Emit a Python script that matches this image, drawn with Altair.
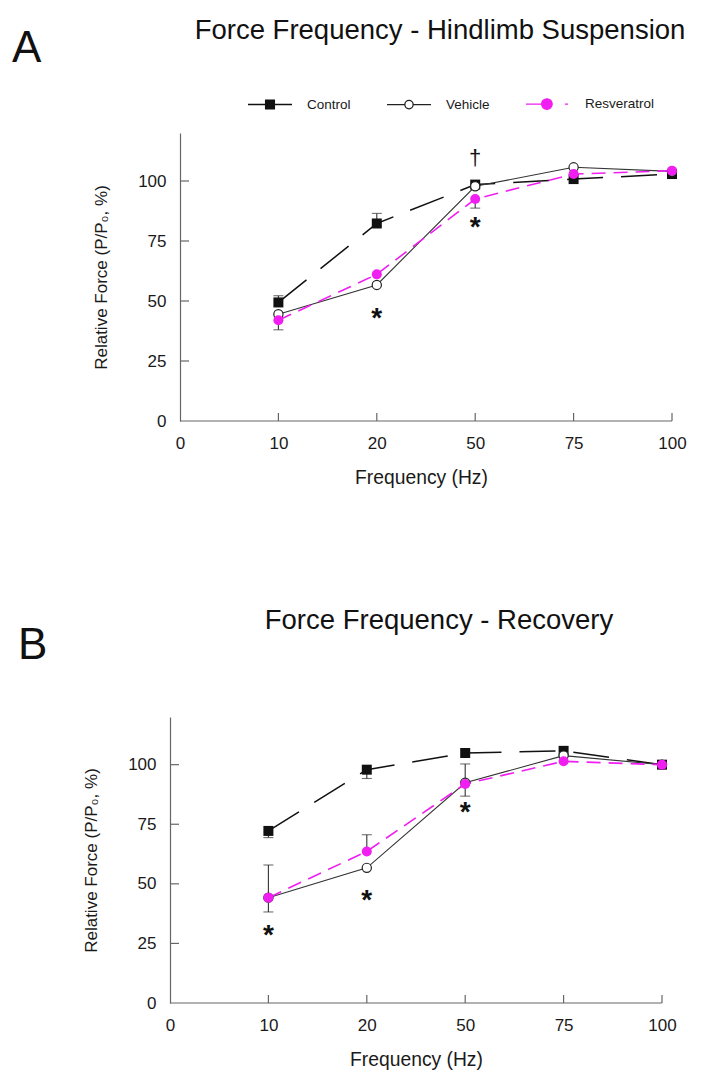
import altair as alt
import pandas as pd

# ---------------- data ----------------
freq_labels = ["0", "10", "20", "50", "75", "100"]
freq_index = [1, 2, 3, 4, 5]
y_tick_values = [0, 25, 50, 75, 100]
series_names = ["Control", "Vehicle", "Resveratrol"]

# Panel A - Hindlimb Suspension
a_control = [49.4, 82.3, 98.5, 100.8, 102.9]
a_vehicle = [44.5, 56.7, 97.8, 105.7, 104.0]
a_resveratrol = [42.0, 61.1, 92.5, 102.9, 104.3]
a_err_series = ["Control", "Control", "Resveratrol", "Resveratrol"]
a_err_index = [1, 2, 1, 3]
a_err_end = [52.2, 86.5, 38.0, 88.7]
a_sig_text = ["*", "*", "†"]
a_sig_index = [2, 3, 3]
a_sig_value = [45.6, 83.4, 109.5]

# Panel B - Recovery
b_control = [72.2, 97.9, 104.9, 105.8, 100.0]
b_vehicle = [44.2, 56.7, 92.4, 103.8, 100.0]
b_resveratrol = [44.2, 63.6, 91.9, 101.4, 100.0]
b_err_series = ["Control", "Control", "Resveratrol", "Vehicle", "Resveratrol", "Vehicle", "Resveratrol"]
b_err_index = [1, 2, 1, 1, 2, 3, 3]
b_err_end = [69.4, 94.2, 57.9, 38.2, 70.6, 100.3, 86.8]
b_sig_text = ["*", "*", "*"]
b_sig_index = [1, 2, 3]
b_sig_value = [31.3, 46.1, 83.0]

# ---------------- style ----------------
FONT = "Liberation Sans"
MAG = "#f01ef0"
AXC = "#666666"
TXT = "#1a1a1a"
STEP = 98.4  # px per category step

label_expr = "[" + ",".join("'%s'" % l for l in freq_labels) + "][datum.value]"

leg_shapes = [
    "M-1,0H1M-0.2,-0.2H0.2V0.2H-0.2Z",
    "M-1,0H-0.19M0.19,0H1M0.19,0A0.19,0.19 0 1,1 -0.19,0A0.19,0.19 0 1,1 0.19,0Z",
    "M-1,0H-0.2M0.77,0H0.91M0.19,0A0.24,0.24 0 1,1 -0.29,0A0.24,0.24 0 1,1 0.19,0Z",
]


def series_frame(vals_list):
    rows = []
    for name, vals in zip(series_names, vals_list):
        for i, v in zip(freq_index, vals):
            rows.append({"series": name, "idx": i, "value": v})
    return pd.DataFrame(rows)


def err_frame(df, s, ix, e):
    rows = []
    for ss, ii, ee in zip(s, ix, e):
        c = df[(df.series == ss) & (df.idx == ii)].value.iloc[0]
        rows.append({"series": ss, "idx": ii, "value": c, "end": ee})
    return pd.DataFrame(rows)


def panel(vals, err, sig, title, letter, H, shift, title_x, title_y,
          letter_x, letter_y, leg_x, leg_y):
    W = 492 + shift
    x0 = -shift / STEP
    df = series_frame(vals)
    ef = err_frame(df, *err)
    sf = pd.DataFrame({"t": sig[0], "idx": sig[1], "value": sig[2]})

    xs = alt.Scale(domain=[x0, 5], nice=False, zero=False)
    ys = alt.Scale(domain=[0, 120], nice=False, zero=False)
    x_axis = alt.Axis(
        values=list(range(6)), labelExpr=label_expr, domain=False, ticks=False,
        grid=False, labelFlush=False, labelFont=FONT, labelFontSize=17,
        labelColor=TXT, labelPadding=14, title="Frequency (Hz)", titleFont=FONT,
        titleFontSize=19.3, titleFontWeight="normal", titleColor=TXT,
        titlePadding=17)
    y_axis = alt.Axis(
        values=y_tick_values, offset=-shift, domainColor=AXC, domainWidth=1.2,
        ticks=False, grid=False, labelFlush=False, labelFont=FONT, labelFontSize=17,
        labelColor=TXT, labelPadding=14, title="Relative Force (P/P₀, %)",
        titleFont=FONT, titleFontSize=17, titleFontWeight="normal",
        titleColor=TXT, titlePadding=27)
    X = alt.X("idx:Q", scale=xs, axis=x_axis)
    Y = alt.Y("value:Q", scale=ys, axis=y_axis)
    Yend = alt.Y("end:Q", scale=ys, axis=y_axis)

    base = alt.Chart(df)

    xline = alt.Chart(pd.DataFrame({"idx": [0], "idx2": [5], "value": [0]})).mark_rule(
        color=AXC, strokeWidth=1.2).encode(x=X, x2="idx2:Q", y=Y)
    yticks = alt.Chart(pd.DataFrame({"value": y_tick_values[1:]})).mark_rule(
        color=AXC, strokeWidth=1.2).encode(y=Y, x=alt.value(shift), x2=alt.value(shift + 9))
    xticks = alt.Chart(pd.DataFrame({"idx": freq_index})).mark_rule(
        color=AXC, strokeWidth=1.2).encode(x=X, y=alt.value(H), y2=alt.value(H - 8))

    line_styles = {
        "Control": dict(color="#111111", strokeDash=[36, 18], strokeWidth=1.5),
        "Vehicle": dict(color="#333333", strokeWidth=1.1),
        "Resveratrol": dict(color=MAG, strokeDash=[14, 8], strokeWidth=1.6),
    }
    lines = [base.transform_filter(alt.datum.series == s).mark_line(**line_styles[s]).encode(x=X, y=Y)
             for s in series_names]

    ebar = alt.Chart(ef).mark_rule(color="#333333", strokeWidth=1.1).encode(x=X, y=Y, y2="end:Q")
    ecap = alt.Chart(ef).mark_tick(color="#333333", orient="horizontal", size=10, thickness=1.1).encode(
        x=X, y=Yend)

    point_styles = {
        "Control": dict(shape="square", filled=True, color="#111111", size=100, opacity=1),
        "Vehicle": dict(shape="circle", filled=False, fill="white", stroke="#222222",
                        strokeWidth=1.2, size=85, opacity=1, fillOpacity=1),
        "Resveratrol": dict(shape="circle", filled=True, color=MAG, size=100, opacity=1),
    }
    points = [base.transform_filter(alt.datum.series == s).mark_point(**point_styles[s]).encode(x=X, y=Y)
              for s in series_names]

    stars = alt.Chart(sf).transform_filter(alt.datum.t == "*").mark_text(
        font=FONT, fontSize=28, fontWeight="bold", baseline="alphabetic", dy=15.5,
        color="#111111").encode(x=X, y=Y, text="t:N")
    daggers = alt.Chart(sf).transform_filter(alt.datum.t == "†").mark_text(
        font=FONT, fontSize=22, baseline="alphabetic", dy=6.5,
        color="#111111").encode(x=X, y=Y, text="t:N")

    leg = alt.Legend(title=None, orient="none", legendX=leg_x, legendY=leg_y,
                     direction="horizontal", labelFont=FONT, labelFontSize=13.5,
                     labelColor=TXT, labelOffset=14, columnPadding=33,
                     symbolSize=1936, symbolOpacity=1, symbolStrokeWidth=1.3,
                     padding=0)
    legend_layer = base.mark_point(opacity=0, filled=False).encode(
        x=X, y=Y,
        shape=alt.Shape("series:N", scale=alt.Scale(domain=series_names, range=leg_shapes), legend=leg),
        color=alt.Color("series:N", scale=alt.Scale(domain=series_names, range=["#111111", "#222222", MAG]), legend=leg),
        fill=alt.Fill("series:N", scale=alt.Scale(domain=series_names, range=["#111111", "white", MAG]), legend=leg),
    )

    title_mark = alt.Chart(pd.DataFrame({"t": [title]})).mark_text(
        font=FONT, fontSize=27.5, align="center", baseline="alphabetic", color="#111111").encode(
        text="t:N", x=alt.value(title_x), y=alt.value(title_y))
    letter_mark = alt.Chart(pd.DataFrame({"t": [letter]})).mark_text(
        font=FONT, fontSize=44, align="left", baseline="alphabetic", color="#111111").encode(
        text="t:N", x=alt.value(letter_x), y=alt.value(letter_y))

    return alt.layer(
        xline, yticks, xticks, *lines, ebar, ecap, *points, stars, daggers,
        legend_layer, title_mark, letter_mark
    ).properties(width=W, height=H)


chart_a = panel(
    [a_control, a_vehicle, a_resveratrol],
    (a_err_series, a_err_index, a_err_end),
    (a_sig_text, a_sig_index, a_sig_value),
    "Force Frequency - Hindlimb Suspension", "A", 288, 10,
    270, -94, -158, -71, 77, -52)

chart_b = panel(
    [b_control, b_vehicle, b_resveratrol],
    (b_err_series, b_err_index, b_err_end),
    (b_sig_text, b_sig_index, b_sig_value),
    "Force Frequency - Recovery", "B", 286, 0,
    269, -88, -152, -58, 68, -51)

chart = alt.vconcat(chart_a, chart_b, spacing=119).properties(
    padding={"left": 4, "top": 9, "right": 5, "bottom": 5}
).configure_view(stroke=None).resolve_scale(x="independent", y="independent")

chart.save("out.html", embed_options={"renderer": "svg", "actions": False})
